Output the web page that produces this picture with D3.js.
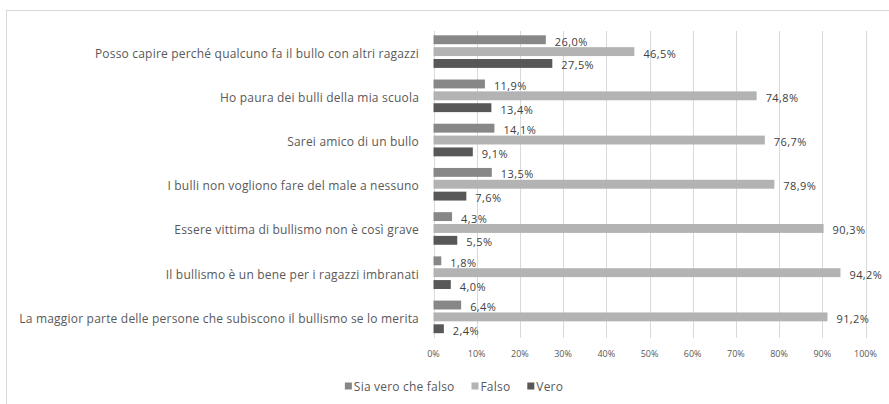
<!doctype html>
<html lang="it">
<head>
  <meta charset="utf-8">
  <title>Bullismo</title>
  <style>
  body {
    margin: 0;
    background: #fff;
  }
  svg {
    display: block;
    font-family: "Open Sans", sans-serif;
  }
  .grid line {
    stroke: #d9d9d9;
  }
  .cat {
    fill: #595959;
    font-size: 12px;
    letter-spacing: 0.2px;
  }
  .val {
    fill: #404040;
    font-size: 11px;
    letter-spacing: 0.4px;
  }
  .tick-lbl {
    fill: #595959;
    font-size: 9px;
  }
  .legend text {
    fill: #595959;
    font-size: 12px;
    letter-spacing: 0.2px;
  }
  </style>
</head>
<body>
  <div id="chart"></div>
  <script src="https://cdn.jsdelivr.net/npm/d3@7"></script>
  <script>
    var categories = [
      "Posso capire perché qualcuno fa il bullo con altri ragazzi",
      "Ho paura dei bulli della mia scuola",
      "Sarei amico di un bullo",
      "I bulli non vogliono fare del male a nessuno",
      "Essere vittima di bullismo non è così grave",
      "Il bullismo è un bene per i ragazzi imbranati",
      "La maggior parte delle persone che subiscono il bullismo se lo merita"
    ];
    var seriesNames = ["Sia vero che falso", "Falso", "Vero"];
    var siaVeroCheFalso = [26.0, 11.9, 14.1, 13.5, 4.3, 1.8, 6.4];
    var falso = [46.5, 74.8, 76.7, 78.9, 90.3, 94.2, 91.2];
    var vero = [27.5, 13.4, 9.1, 7.6, 5.5, 4.0, 2.4];
    var xTicks = [0, 10, 20, 30, 40, 50, 60, 70, 80, 90, 100];
    var colors = ["#878787", "#b3b3b3", "#585858"];

    (function() {
      var width = 889,
          height = 404;

      var values = [siaVeroCheFalso, falso, vero];

      var svg = d3.select("#chart")
          .append("svg")
          .attr("width", width)
          .attr("height", height);

      // chart frame, cut off on the right and bottom like the screenshot
      svg.append("rect")
        .attr("x", 6.5)
        .attr("y", 10.5)
        .attr("width", 1000)
        .attr("height", 1000)
        .attr("fill", "none")
        .attr("stroke", "#d9d9d9");

      var x = d3.scaleLinear().domain([0, 100]).range([433.5, 865.5]);
      var y = d3.scaleBand().domain(categories).range([29.5, 339]);
      var half = 16.3;
      var inner = d3.scaleBand().domain(seriesNames).range([-half, half]).paddingInner(0.25);

      var it = d3.formatLocale({decimal: ",", thousands: ".", grouping: [3], currency: ["", "€"]});
      var fmt = it.format(".1f");

      // gridlines
      svg.append("g").attr("class", "grid")
        .selectAll("line")
        .data(xTicks)
        .enter().append("line")
        .attr("x1", function(d) { return Math.round(x(d)) + 0.5; })
        .attr("x2", function(d) { return Math.round(x(d)) + 0.5; })
        .attr("y1", 31)
        .attr("y2", 338);

      svg.append("g")
        .selectAll("text")
        .data(xTicks)
        .enter().append("text")
        .attr("class", "tick-lbl")
        .attr("x", function(d) { return x(d); })
        .attr("y", 353)
        .attr("text-anchor", "middle")
        .attr("dominant-baseline", "central")
        .text(function(d) { return d + "%"; });

      // category labels
      svg.append("g")
        .selectAll("text")
        .data(categories)
        .enter().append("text")
        .attr("class", "cat")
        .attr("x", 419)
        .attr("y", function(d) { return y(d) + y.bandwidth() / 2 + 1.5; })
        .attr("text-anchor", "end")
        .attr("dominant-baseline", "central")
        .text(function(d) { return d; });

      // bars + labels
      seriesNames.forEach(function(s, i) {
        var g = svg.append("g");
        var rows = categories.map(function(c, j) { return {cat: c, v: values[i][j]}; });
        var top = function(d) { return y(d.cat) + y.bandwidth() / 2 + inner(s); };

        g.selectAll("rect")
          .data(rows)
          .enter().append("rect")
          .attr("x", x(0))
          .attr("y", top)
          .attr("width", function(d) { return x(d.v) - x(0); })
          .attr("height", inner.bandwidth())
          .attr("fill", colors[i]);

        g.selectAll("text")
          .data(rows)
          .enter().append("text")
          .attr("class", "val")
          .attr("x", function(d) { return x(d.v) + 9; })
          .attr("y", function(d) { return top(d) + inner.bandwidth() / 2 + 1.5; })
          .attr("dominant-baseline", "central")
          .text(function(d) { return fmt(d.v) + "%"; });
      });

      // legend, centred under the chart
      var legend = svg.append("g").attr("class", "legend");
      var items = legend.selectAll("g")
        .data(seriesNames)
        .enter().append("g");
      items.append("rect")
        .attr("width", 7)
        .attr("height", 7)
        .attr("y", 382.5)
        .attr("fill", function(d, i) { return colors[i]; });
      items.append("text")
        .attr("x", 9)
        .attr("y", 386)
        .attr("dominant-baseline", "central")
        .text(function(d) { return d; });

      var widths = [];
      items.each(function() { widths.push(this.getBBox().width); });
      var gap = 17;
      var total = d3.sum(widths) + gap * (widths.length - 1);
      var pos = 454 - total / 2;
      items.attr("transform", function(d, i) {
        var t = "translate(" + pos + ",0)";
        pos += widths[i] + gap;
        return t;
      });
    })();
  </script>
</body>
</html>
